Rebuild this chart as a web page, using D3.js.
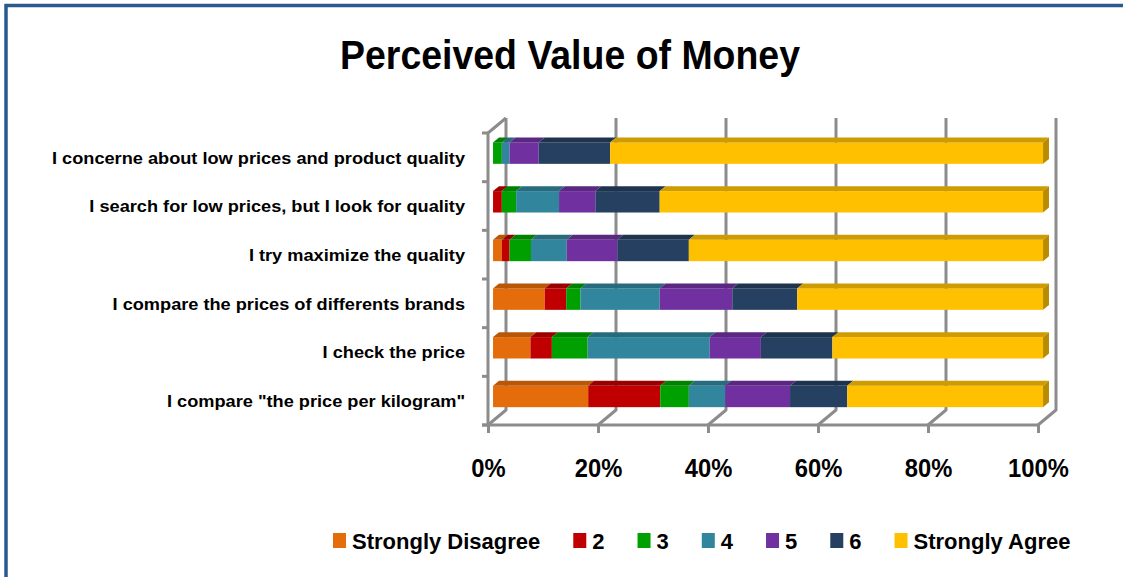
<!DOCTYPE html>
<html>
<head>
<meta charset="utf-8">
<script src="https://cdn.jsdelivr.net/npm/d3@7"></script>
<style>
  body { margin: 0; background: #fff; }
  svg { display: block; }
  text { font-family: "Liberation Sans", Arial, sans-serif; fill: #000; }
</style>
</head>
<body>
<div id="chart"></div>
<script>
/* DATA (percent of answers) */
const categories = [
  "I concerne about low prices and product quality",
  "I search for low prices, but I look for quality",
  "I try maximize the quality",
  "I compare the prices of differents brands",
  "I check the price",
  "I compare \"the price per kilogram\""
];
const seriesNames = ["Strongly Disagree", "2", "3", "4", "5", "6", "Strongly Agree"];

const stronglyDisagree = [0, 0, 1.6, 9.4, 6.8, 17.3];
const answer2 = [0, 1.6, 1.4, 3.9, 3.9, 13.1];
const answer3 = [1.6, 2.6, 3.9, 2.6, 6.5, 5.2];
const answer4 = [1.4, 7.8, 6.5, 14.4, 22.2, 6.6];
const answer5 = [5.3, 6.6, 9.2, 13.2, 9.3, 11.8];
const answer6 = [13.0, 11.7, 13.0, 11.8, 13.0, 10.4];
const stronglyAgree = [78.7, 69.7, 64.4, 44.7, 38.3, 35.6];

const tickValues = [0, 20, 40, 60, 80, 100];
const tickLabels = ["0%", "20%", "40%", "60%", "80%", "100%"];

/* CONSTANTS */
const width = 1123, height = 577;
const colors = ["#E46C0A", "#C00000", "#00A000", "#31859C", "#7030A0", "#254061", "#FFC000"];

// 3d look: floor front edge and how far the back wall is pushed
const front = { left: 488, right: 1038, top: 133, bottom: 425 };
const depth = { dx: 18, dy: 15 };
const barDepth = [0.28, 0.61]; // front / back plane of bars, as part of the depth

const seriesValues = [stronglyDisagree, answer2, answer3, answer4, answer5, answer6, stronglyAgree];
const rows = categories.map((c, i) => {
  const r = { cat: c };
  seriesNames.forEach((s, j) => r[s] = seriesValues[j][i]);
  return r;
});
const stacked = d3.stack().keys(seriesNames)(rows);

/* SCALES */
const xScale = d3.scaleLinear().domain([0, 100]).range([front.left, front.right]);
const yScale = d3.scaleBand()
  .domain(categories)
  .range([front.top, front.bottom])
  .paddingInner(0.56)
  .paddingOuter(0.28);
const color = d3.scaleOrdinal().domain(seriesNames).range(colors);

const svg = d3.select("#chart").append("svg")
  .attr("width", width)
  .attr("height", height);

svg.append("rect").attr("width", width).attr("height", height).attr("fill", "#fff");

// frame
svg.append("path")
  .attr("d", `M6,${height} V5.5 H${width}`)
  .attr("fill", "none")
  .attr("stroke", "#2C5890")
  .attr("stroke-width", 3.5);

// title
svg.append("text")
  .attr("x", 570)
  .attr("y", 69)
  .attr("text-anchor", "middle")
  .attr("textLength", 460)
  .attr("lengthAdjust", "spacingAndGlyphs")
  .style("font-size", "41px")
  .style("font-weight", "bold")
  .text("Perceived Value of Money");

/* WALLS AND GRID */
const grid = svg.append("g")
  .attr("fill", "none")
  .attr("stroke", "#8c8c8c")
  .attr("stroke-width", 3)
  .attr("stroke-linejoin", "round");

const backTop = front.top - depth.dy, backBottom = front.bottom - depth.dy;

// back wall lines + floor lines
grid.selectAll(".gridline")
  .data(tickValues)
  .join("path")
  .attr("class", "gridline")
  .attr("d", d => {
    const xf = xScale(d), xb = xf + depth.dx;
    return `M${xb},${backTop} V${backBottom} L${xf},${front.bottom}`;
  });

// left wall
grid.append("path")
  .attr("d", `M${front.left + depth.dx},${backTop} L${front.left},${front.top} V${front.bottom}`);

// left ticks at the band edges
const bandEdges = categories.map(c => yScale(c) - yScale.step() * yScale.paddingInner() / 2)
  .concat([front.bottom]);
bandEdges[0] = front.top;
grid.selectAll(".ytick")
  .data(bandEdges)
  .join("line")
  .attr("class", "ytick")
  .attr("x1", front.left - 6)
  .attr("x2", front.left)
  .attr("y1", d => d)
  .attr("y2", d => d);

// front axis
const xAxis = d3.axisBottom(xScale)
  .tickValues(tickValues)
  .tickFormat((d, i) => tickLabels[i])
  .tickSizeInner(8)
  .tickSizeOuter(0)
  .tickPadding(26);

const xAxisG = svg.append("g")
  .attr("transform", `translate(0, ${front.bottom})`)
  .call(xAxis);
xAxisG.select(".domain").attr("stroke", "#8c8c8c").attr("stroke-width", 3)
  .attr("d", `M${front.left - 6},0H${front.right}`);
xAxisG.selectAll(".tick line").attr("stroke", "#8c8c8c").attr("stroke-width", 3);
xAxisG.selectAll(".tick text")
  .style("font-size", "25px")
  .style("font-weight", "bold")
  .attr("fill", "#000")
  .each(function () {
    d3.select(this)
      .attr("textLength", this.getComputedTextLength() * 0.95)
      .attr("lengthAdjust", "spacingAndGlyphs");
  });

// category axis
const yAxis = d3.axisLeft(yScale).tickSize(0).tickPadding(23);
const yAxisG = svg.append("g")
  .attr("transform", `translate(${front.left}, 1)`)
  .call(yAxis);
yAxisG.select(".domain").remove();
const yTexts = yAxisG.selectAll(".tick text")
  .style("font-size", "17px")
  .style("font-weight", "bold")
  .attr("fill", "#000");
// fit the longest label to the width it has in the original
let longest = 0;
yTexts.each(function () { longest = Math.max(longest, this.getComputedTextLength()); });
const fit = 413 / longest;
yTexts.each(function () {
  d3.select(this)
    .attr("textLength", this.getComputedTextLength() * fit)
    .attr("lengthAdjust", "spacingAndGlyphs");
});

/* BARS */
const fx = depth.dx * barDepth[0], fy = depth.dy * barDepth[0];
const tx = depth.dx * (barDepth[1] - barDepth[0]), ty = depth.dy * (barDepth[1] - barDepth[0]);
const bh = yScale.bandwidth();

const layers = svg.append("g").selectAll("g")
  .data(stacked)
  .join("g")
  .attr("data-key", d => d.key);

layers.each(function (layer, li) {
  const base = d3.color(color(layer.key));
  const segs = layer.filter(d => d[1] - d[0] > 0);
  const g = d3.select(this);

  g.selectAll("rect")
    .data(segs)
    .join("rect")
    .attr("x", d => xScale(d[0]) + fx)
    .attr("y", d => yScale(d.data.cat) - fy)
    .attr("width", d => xScale(d[1]) - xScale(d[0]))
    .attr("height", bh)
    .attr("fill", base.formatHex());

  g.selectAll(".top")
    .data(segs)
    .join("path")
    .attr("class", "top")
    .attr("fill", base.darker(0.6).formatHex())
    .attr("d", d => {
      const x0 = xScale(d[0]) + fx, x1 = xScale(d[1]) + fx, y = yScale(d.data.cat) - fy;
      return `M${x0},${y}L${x1},${y}L${x1 + tx},${y - ty}L${x0 + tx},${y - ty}Z`;
    });

  if (li === stacked.length - 1) {
    g.selectAll(".side")
      .data(segs)
      .join("path")
      .attr("class", "side")
      .attr("fill", base.darker(0.9).formatHex())
      .attr("d", d => {
        const x1 = xScale(d[1]) + fx, y = yScale(d.data.cat) - fy;
        return `M${x1},${y}L${x1 + tx},${y - ty}L${x1 + tx},${y + bh - ty}L${x1},${y + bh}Z`;
      });
  }
});

/* LEGEND */
const legend = svg.append("g").attr("transform", "translate(333, 0)");
let lx = 0;
seriesNames.forEach((name, i) => {
  const item = legend.append("g").attr("transform", `translate(${lx}, 0)`);
  item.append("rect")
    .attr("x", 0).attr("y", 533)
    .attr("width", 13).attr("height", 15)
    .attr("fill", color(name));
  const t = item.append("text")
    .attr("x", 19).attr("y", 549)
    .style("font-size", "22px")
    .style("font-weight", "bold")
    .text(name);
  const w = 19 + t.node().getComputedTextLength();
  lx += Math.max(w + 33, 63.5);
});
</script>
</body>
</html>
